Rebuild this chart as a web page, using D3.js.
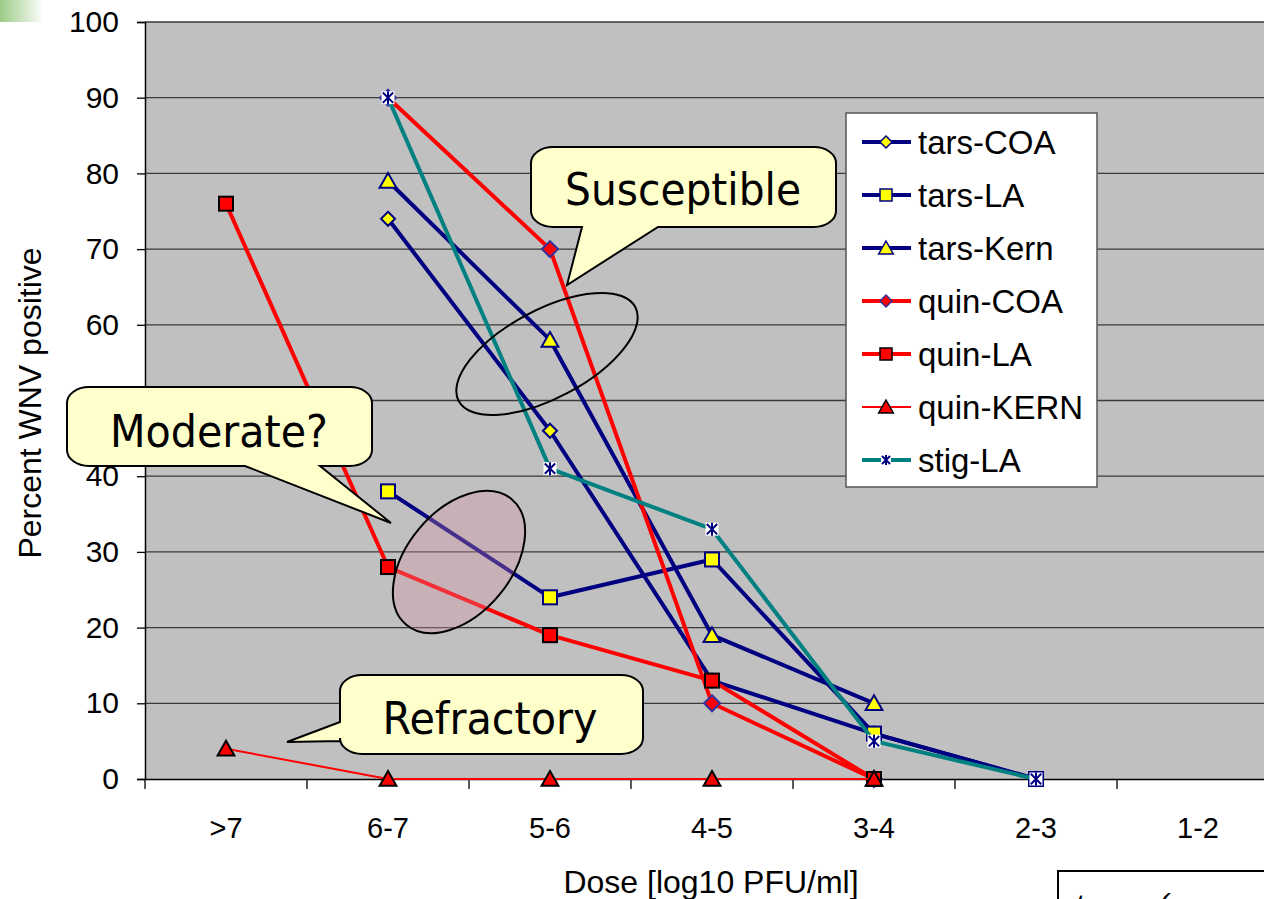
<!DOCTYPE html>
<html><head><meta charset="utf-8">
<script src="https://cdn.jsdelivr.net/npm/d3@7"></script>
<style>html,body{margin:0;padding:0;background:#fff;overflow:hidden}</style>
</head><body>
<svg id="chart" width="1264" height="899"></svg>
<script>
const categories = [">7", "6-7", "5-6", "4-5", "3-4", "2-3", "1-2"];
const yTicks = [0, 10, 20, 30, 40, 50, 60, 70, 80, 90, 100];
const seriesNames = ["tars-COA", "tars-LA", "tars-Kern", "quin-COA", "quin-LA", "quin-KERN", "stig-LA"];
const tarsCOA  = [null, 74, 46, 13, 6, 0, null];
const tarsLA   = [null, 38, 24, 29, 6, 0, null];
const tarsKern = [null, 79, 58, 19, 10, null, null];
const quinCOA  = [null, 90, 70, 10, 0, null, null];
const quinLA   = [76, 28, 19, 13, 0, null, null];
const quinKERN = [4, 0, 0, 0, 0, null, null];
const stigLA   = [null, 90, 41, 33, 5, 0, null];
const callouts = ["Susceptible", "Moderate?", "Refractory"];

const styles = [
  {line:"#000080", w:4,   marker:"diamond",  fill:"#ffff00", stroke:"#000080"},
  {line:"#000080", w:4,   marker:"square",   fill:"#ffff00", stroke:"#000080"},
  {line:"#000080", w:4,   marker:"triangle", fill:"#ffff00", stroke:"#000080"},
  {line:"#ff0000", w:4,   marker:"diamond",  fill:"#ff0000", stroke:"#3333a0"},
  {line:"#ff0000", w:4,   marker:"square",   fill:"#ff0000", stroke:"#000000"},
  {line:"#ff0000", w:2,   marker:"triangle", fill:"#ff0000", stroke:"#000000"},
  {line:"#008080", w:4,   marker:"star",     fill:"#ffffff", stroke:"#000080"}
];
const seriesValues = [tarsCOA, tarsLA, tarsKern, quinCOA, quinLA, quinKERN, stigLA];

const svg = d3.select("#chart");
const L = 145, T = 22, B = 779, R = 145 + 162*7;
const x = d3.scaleBand().domain(categories).range([L, R]);
const y = d3.scaleLinear().domain([0, 100]).range([B, T]);
const cx = c => x(c) + x.bandwidth()/2;

// corner gradient
const defs = svg.append("defs");
const g1 = defs.append("linearGradient").attr("id","gr").attr("x1","0").attr("x2","1").attr("y1","0").attr("y2","0");
g1.append("stop").attr("offset","0").attr("stop-color","#9ccb86");
g1.append("stop").attr("offset","1").attr("stop-color","#ffffff");
svg.append("rect").attr("x",0).attr("y",0).attr("width",44).attr("height",22).attr("fill","url(#gr)");

// plot background
svg.append("rect").attr("x",L).attr("y",T).attr("width",R-L).attr("height",B-T).attr("fill","#c0c0c0");

// gridlines
svg.append("g").selectAll("line").data(yTicks.filter(d=>d>0)).join("line")
  .attr("x1",L).attr("x2",R).attr("y1",d=>y(d)).attr("y2",d=>y(d))
  .attr("stroke","#3a3a3a").attr("stroke-width",1.3);

// y axis
const yAxis = svg.append("g").attr("transform",`translate(${L},0)`)
  .call(d3.axisLeft(y).tickValues(yTicks).tickSize(8).tickPadding(18));
yAxis.select(".domain").attr("stroke","#000").attr("stroke-width",1.5);
yAxis.selectAll(".tick line").attr("stroke","#000").attr("stroke-width",1.3);
yAxis.selectAll("text").attr("font-family","Liberation Sans, Arial, sans-serif").attr("font-size",30).attr("fill","#000");

// x axis
const xAxis = svg.append("g").attr("transform",`translate(0,${B})`)
  .call(d3.axisBottom(x).tickSize(0).tickPadding(38));
xAxis.select(".domain").attr("stroke","#000").attr("stroke-width",1.5);
xAxis.selectAll("text").attr("font-family","Liberation Sans, Arial, sans-serif").attr("font-size",29).attr("fill","#000");
svg.append("g").selectAll("line").data(d3.range(categories.length+1)).join("line")
  .attr("x1",i=>L+i*x.step()).attr("x2",i=>L+i*x.step()).attr("y1",B).attr("y2",B+10)
  .attr("stroke","#000").attr("stroke-width",1.3);

// axis titles
svg.append("text").attr("x",711).attr("y",893).attr("text-anchor","middle")
  .attr("font-family","Liberation Sans, Arial, sans-serif").attr("font-size",32).text("Dose [log10 PFU/ml]");
svg.append("text").attr("transform","translate(41,403) rotate(-90)").attr("text-anchor","middle")
  .attr("font-family","Liberation Sans, Arial, sans-serif").attr("font-size",32).text("Percent WNV positive");

// marker drawing
function drawMarker(g, type, px, py, s, fill, stroke, sw) {
  if (type === "diamond") {
    g.append("path").attr("d",`M${px},${py-s}L${px+s},${py}L${px},${py+s}L${px-s},${py}Z`)
      .attr("fill",fill).attr("stroke",stroke).attr("stroke-width",sw);
  } else if (type === "square") {
    g.append("rect").attr("x",px-s).attr("y",py-s).attr("width",2*s).attr("height",2*s)
      .attr("fill",fill).attr("stroke",stroke).attr("stroke-width",sw);
  } else if (type === "triangle") {
    g.append("path").attr("d",`M${px},${py-s}L${px+s*1.05},${py+s*0.85}L${px-s*1.05},${py+s*0.85}Z`)
      .attr("fill",fill).attr("stroke",stroke).attr("stroke-width",sw);
  } else if (type === "star") {
    g.append("rect").attr("x",px-s).attr("y",py-s).attr("width",2*s).attr("height",2*s).attr("fill","#ffffff");
    const k = s*0.8;
    g.append("path").attr("d",`M${px},${py-s}V${py+s}M${px-k},${py-k}L${px+k},${py+k}M${px+k},${py-k}L${px-k},${py+k}`)
      .attr("stroke",stroke).attr("stroke-width",2).attr("fill","none");
  }
}

// series
const plot = svg.append("g");
const lineGen = d3.line().defined(d=>d.v!==null).x(d=>cx(d.c)).y(d=>y(d.v));
seriesValues.forEach((vals, i) => {
  const st = styles[i];
  const pts = vals.map((v,j)=>({c:categories[j], v}));
  const gs = plot.append("g");
  gs.append("path").datum(pts).attr("d",lineGen).attr("fill","none")
    .attr("stroke",st.line).attr("stroke-width",st.w).attr("stroke-linejoin","round");
  pts.filter(p=>p.v!==null).forEach(p=>{
    const s = st.marker==="diamond" ? (i===3?8:7) : st.marker==="square" ? 7 : st.marker==="triangle" ? 8 : 6.5;
    drawMarker(gs, st.marker, cx(p.c), y(p.v), s, st.fill, st.stroke, 2);
  });
});

// moderate ellipse (translucent stipple)
svg.append("ellipse").attr("cx",459).attr("cy",562).attr("rx",82).attr("ry",52)
  .attr("transform","rotate(-50,459,562)")
  .attr("fill","#d88ea4").attr("fill-opacity",0.33).attr("stroke","#000").attr("stroke-width",2);
// susceptible ellipse
svg.append("ellipse").attr("cx",547).attr("cy",354).attr("rx",100).attr("ry",44)
  .attr("transform","rotate(-28,547,354)")
  .attr("fill","none").attr("stroke","#000").attr("stroke-width",2);

// callouts
function calloutPath(x0,y0,x1,y1,rx,ry,tail){
  let p = `M${x0+rx},${y0}H${x1-rx}A${rx},${ry} 0 0 1 ${x1},${y0+ry}V${y1-ry}A${rx},${ry} 0 0 1 ${x1-rx},${y1}`;
  if (tail.side==="bottom") p += `H${tail.b}L${tail.tx},${tail.ty}L${tail.a},${y1}`;
  p += `H${x0+rx}A${rx},${ry} 0 0 1 ${x0},${y1-ry}`;
  if (tail.side==="left") p += `V${tail.b}L${tail.tx},${tail.ty}L${x0},${tail.a}`;
  p += `V${y0+ry}A${rx},${ry} 0 0 1 ${x0+rx},${y0}Z`;
  return p;
}
const cg = svg.append("g");
const calloutDefs = [
  {box:[531,147,836,227], tail:{side:"bottom", a:582, b:658, tx:567, ty:285}, tx:683, ty:205, w:236},
  {box:[67,387,372,466],  tail:{side:"bottom", a:245, b:320, tx:391, ty:523}, tx:219, ty:447, w:218},
  {box:[340,675,643,754], tail:{side:"left",   a:722, b:741, tx:287, ty:742}, tx:490, ty:734, w:215}
];
calloutDefs.forEach((d,i)=>{
  cg.append("path").attr("d",calloutPath(d.box[0],d.box[1],d.box[2],d.box[3],22,16,d.tail))
    .attr("fill","#ffffcc").attr("stroke","#000").attr("stroke-width",2);
  cg.append("text").attr("x",d.tx).attr("y",d.ty).attr("text-anchor","middle")
    .attr("font-family","'DejaVu Sans', sans-serif").attr("font-size",44)
    .attr("textLength",d.w).attr("lengthAdjust","spacingAndGlyphs").text(callouts[i]);
});

// legend
const lg = svg.append("g");
lg.append("rect").attr("x",846).attr("y",113).attr("width",251).attr("height",374)
  .attr("fill","#fff").attr("stroke","#555").attr("stroke-width",1.5);
seriesNames.forEach((n,i)=>{
  const st = styles[i];
  const ly = 142 + i*53;
  lg.append("line").attr("x1",862).attr("x2",911).attr("y1",ly).attr("y2",ly)
    .attr("stroke",st.line).attr("stroke-width",st.w);
  const s = st.marker==="diamond" ? 6 : st.marker==="square" ? 6 : st.marker==="triangle" ? 7 : 5;
  drawMarker(lg, st.marker, 886, ly, s, st.fill, st.stroke, 1.5);
  lg.append("text").attr("x",918).attr("y",ly+12).attr("font-family","Liberation Sans, Arial, sans-serif")
    .attr("font-size",33).text(n);
});

// bottom-right cut-off box (partially outside the frame, as in the reference)
svg.append("rect").attr("x",1058).attr("y",871).attr("width",300).attr("height",100)
  .attr("fill","#fff").attr("stroke","#000").attr("stroke-width",2);
svg.append("text").attr("x",1075).attr("y",915).attr("font-family","Liberation Sans, Arial, sans-serif")
  .attr("font-size",30).attr("font-style","italic").text("tars – (ame");
</script>
</body></html>
